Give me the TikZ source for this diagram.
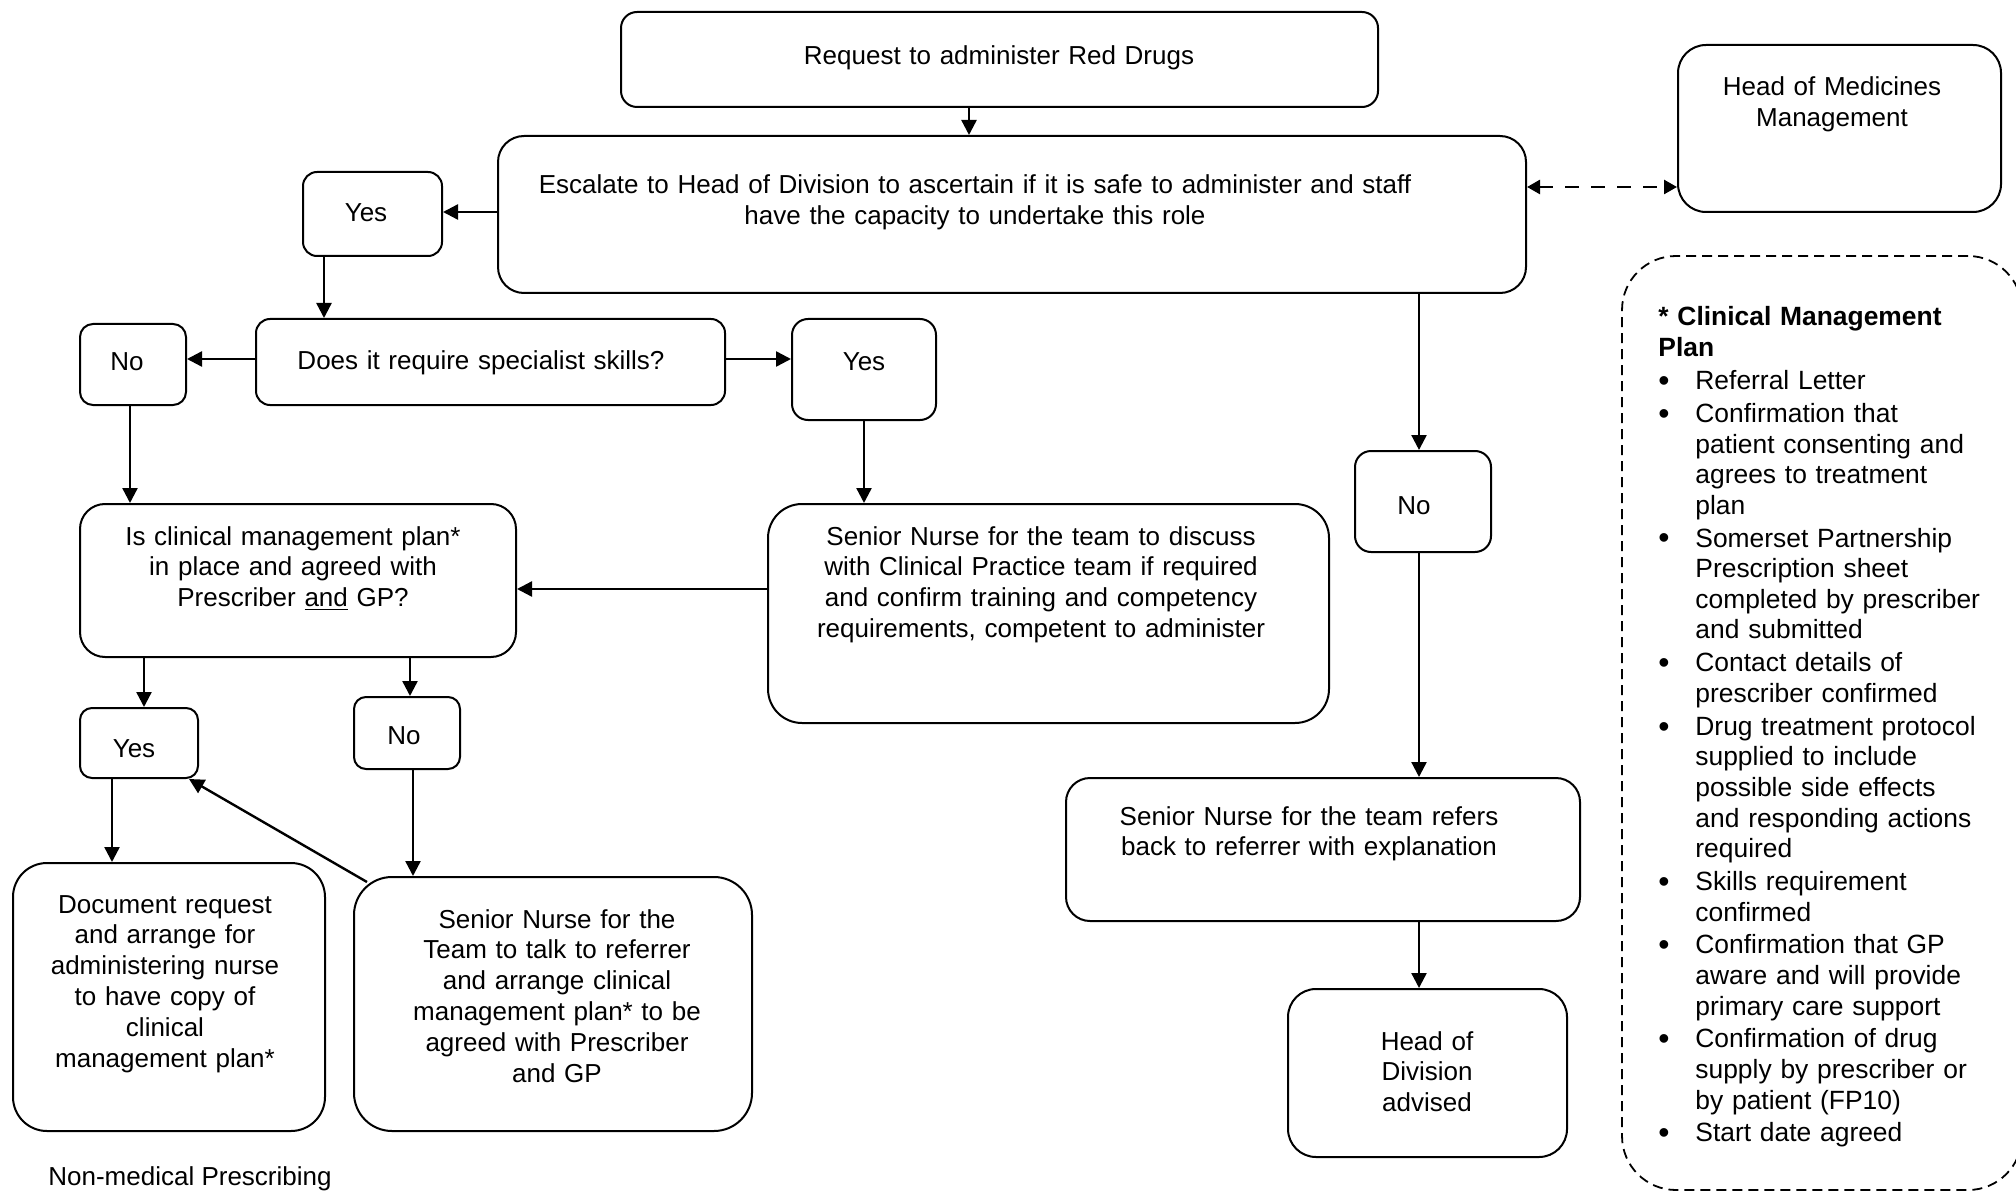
\documentclass[tikz,border=0pt]{standalone}
\usepackage{fontspec}
\setmainfont{Liberation Sans}
\usetikzlibrary{arrows.meta}
\newcommand{\cmpbul}{\makebox[18.5pt][l]{\raisebox{-0.9pt}{\fontsize{16pt}{16pt}\selectfont\textbullet}}}
\newcommand{\cmpind}{\hspace*{18.5pt}}
\tikzset{
  flowbox/.style={draw, line width=1pt, rounded corners=#1, inner sep=0pt},
  lbl/.style={text width=#1, align=center, anchor=base, inner sep=0pt, font=\fontsize{13pt}{15.4pt}\selectfont},
  arr/.style={line width=1.2pt, -{Triangle[length=7.5pt,width=7.5pt]}},
  dasharr/.style={line width=1.3pt, dash pattern=on 7pt off 6pt, {Triangle[length=6.5pt,width=7pt]}-{Triangle[length=6.5pt,width=7pt]}},
  dashbox/.style={draw, line width=0.9pt, dash pattern=on 5pt off 3pt, rounded corners=27pt, inner sep=0pt},
}
\begin{document}
\begin{tikzpicture}[x=0.5pt,y=-0.5pt]
\useasboundingbox[fill=white] (0,0) rectangle (2016,1192);

% boxes
\node[flowbox=8pt, minimum width=378.5pt, minimum height=47.5pt] (req) at (999.5,59.5) {};
\node[flowbox=13pt, minimum width=514pt, minimum height=78.5pt] (esc) at (1012,214.5) {};
\node[flowbox=14pt, minimum width=161.5pt, minimum height=83.5pt] (homm) at (1839.5,128.5) {};
\node[flowbox=7pt, minimum width=69.5pt, minimum height=42pt] (yes1) at (372.5,214) {};
\node[flowbox=7pt, minimum width=234.5pt, minimum height=43pt] (does) at (490.5,362) {};
\node[flowbox=6.5pt, minimum width=53pt, minimum height=40.5pt] (no1) at (133,364.5) {};
\node[flowbox=8pt, minimum width=72pt, minimum height=50.5pt] (yes2) at (864,369.5) {};
\node[flowbox=12.5pt, minimum width=218pt, minimum height=76.5pt] (isplan) at (298,580.5) {};
\node[flowbox=17pt, minimum width=280.5pt, minimum height=109.5pt] (snd) at (1048.5,613.5) {};
\node[flowbox=8pt, minimum width=68pt, minimum height=50.5pt] (no2) at (1423,501.5) {};
\node[flowbox=6pt, minimum width=59pt, minimum height=35pt] (yes3) at (139,743) {};
\node[flowbox=6pt, minimum width=53pt, minimum height=36pt] (no3) at (407,733) {};
\node[flowbox=17pt, minimum width=156pt, minimum height=134pt] (doc) at (169,997) {};
\node[flowbox=19pt, minimum width=199pt, minimum height=127pt] (snt) at (553,1004) {};
\node[flowbox=12pt, minimum width=257pt, minimum height=71.5pt] (snr) at (1323,849.5) {};
\node[flowbox=14pt, minimum width=139.5pt, minimum height=84pt] (hod) at (1427.5,1073) {};
\node[dashbox, minimum width=200pt, minimum height=467pt] (cmp) at (1822,723) {};

% texts
\node[lbl=210pt] (treq) at (999,65) {Request to administer Red Drugs};
\node[lbl=450pt] (tesc) at (975,194) {Escalate to Head of Division to ascertain if it is safe to administer and staff\\have the capacity to undertake this role};
\node[lbl=125pt] (thomm) at (1832,96) {Head of Medicines\\Management};
\node[lbl=30pt] (tyes1) at (366,222) {Yes};
\node[lbl=195pt] (tdoes) at (481,369) {Does it require specialist skills?};
\node[lbl=30pt] (tno1) at (127,371) {No};
\node[lbl=30pt] (tyes2) at (864,371) {Yes};
\node[lbl=185pt] (tisplan) at (293,545) {Is clinical management plan*\\in place and agreed with\\Prescriber \underline{and} GP?};
\node[lbl=235pt] (tsnd) at (1041,545) {Senior Nurse for the team to discuss\\with Clinical Practice team if required\\and confirm training and competency\\requirements, competent to administer};
\node[lbl=30pt] (tno2) at (1414,514) {No};
\node[lbl=30pt] (tyes3) at (134,757) {Yes};
\node[lbl=30pt] (tno3) at (404,744) {No};
\node[lbl=135pt] (tdoc) at (165,913) {Document request\\and arrange for\\administering nurse\\to have copy of\\clinical\\management plan*};
\node[lbl=170pt] (tsnt) at (557,928) {Senior Nurse for the\\Team to talk to referrer\\and arrange clinical\\management plan* to be\\agreed with Prescriber\\and GP};
\node[lbl=205pt] (tsnr) at (1309,825) {Senior Nurse for the team refers\\back to referrer with explanation};
\node[lbl=60pt] (thod) at (1427,1050) {Head of\\Division\\advised};
\node[anchor=base west, inner sep=0pt, font=\fontsize{13pt}{15.4pt}\selectfont] (tnmp) at (48,1185) {Non-medical Prescribing};

\node[anchor=base west, inner sep=0pt, text width=178pt, align=left, font=\fontsize{13.2pt}{15.3pt}\selectfont] (tcmp) at (1658,326) {%
\textbf{* Clinical Management}\\
\textbf{Plan}\\[1.3pt]
\cmpbul Referral Letter\\[1.1pt]
\cmpbul Confirmation that\\
\cmpind patient consenting and\\
\cmpind agrees to treatment\\
\cmpind plan\\[1.1pt]
\cmpbul Somerset Partnership\\
\cmpind Prescription sheet\\
\cmpind completed by prescriber\\
\cmpind and submitted\\[1.1pt]
\cmpbul Contact details of\\
\cmpind prescriber confirmed\\[1.1pt]
\cmpbul Drug treatment protocol\\
\cmpind supplied to include\\
\cmpind possible side effects\\
\cmpind and responding actions\\
\cmpind required\\[1.1pt]
\cmpbul Skills requirement\\
\cmpind confirmed\\[1.1pt]
\cmpbul Confirmation that GP\\
\cmpind aware and will provide\\
\cmpind primary care support\\[1.1pt]
\cmpbul Confirmation of drug\\
\cmpind supply by prescriber or\\
\cmpind by patient (FP10)\\[1.1pt]
\cmpbul Start date agreed};

% connectors
\draw[arr] ([xshift=-15.25pt]req.south) -- ([xshift=-21.5pt]esc.north);
\draw[dasharr] ([yshift=13.75pt]esc.east) -- ([yshift=-29.25pt]homm.west);
\draw[arr] ([yshift=1.25pt]esc.west) -- ([yshift=1pt]yes1.east);
\draw[arr] ([xshift=-24.25pt]yes1.south) -- ([xshift=-83.25pt]does.north);
\draw[arr] ([yshift=1.5pt]does.west) -- ([yshift=2.75pt]no1.east);
\draw[arr] ([yshift=1.5pt]does.east) -- ([yshift=5.25pt]yes2.west);
\draw[arr] ([xshift=-1.5pt]no1.south) -- ([xshift=-84pt]isplan.north);
\draw[arr] (yes2.south) -- (yes2.south |- snd.north);
\draw[arr] ([yshift=12.25pt]snd.west) -- ([yshift=-4.25pt]isplan.east);
\draw[arr] ([xshift=203.5pt]esc.south) -- ([xshift=-2pt]no2.north);
\draw[arr] ([xshift=-2pt]no2.south) -- ([xshift=48pt]snr.north);
\draw[arr] ([xshift=48pt]snr.south) -- ([xshift=-4.25pt]hod.north);
\draw[arr] ([xshift=-77pt]isplan.south) -- ([xshift=2.5pt]yes3.north);
\draw[arr] ([xshift=56pt]isplan.south) -- ([xshift=1.5pt]no3.north);
\draw[arr] ([xshift=-13.5pt]yes3.south) -- ([xshift=-28.5pt]doc.north);
\draw[arr] ([xshift=3pt]no3.south) -- ([xshift=-70pt]snt.north);
\draw[arr] ([xshift=7pt,yshift=-3pt]snt.north west) -- ([xshift=-5pt]yes3.south east);
\end{tikzpicture}
\end{document}
